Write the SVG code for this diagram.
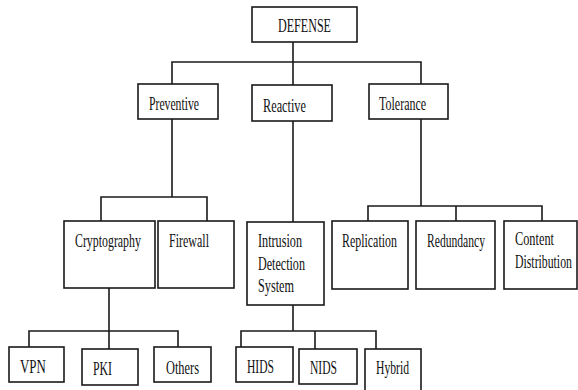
<svg xmlns="http://www.w3.org/2000/svg" width="578" height="390" viewBox="0 0 578 390">
<style>
.box{fill:#fff;stroke:#1a1a1a;stroke-width:1.6}
.ln{fill:none;stroke:#1a1a1a;stroke-width:1.6}
text{font-family:"Liberation Serif","Times New Roman",serif;font-size:18.5px;fill:#111}
</style>
<rect width="578" height="390" fill="#fff"/>
<g id="connectors" class="ln">
<path d="M293,42V62M172,84V62H421V84M293,62V85"/>
<path d="M172,119V197M101,221V197H207V221"/>
<path d="M293,121V222"/>
<path d="M421,119V206M368,221V206H542V221M456,206V221"/>
<path d="M109,288V349M29,347V331H178V347"/>
<path d="M293,305V331M241,347V331H376V349M315,331V349"/>
</g>
<g id="defense"><rect class="box" x="252" y="7" width="105" height="35"/><text transform="translate(278,32) scale(0.653,1)">DEFENSE</text></g>
<g id="preventive"><rect class="box" x="138" y="84" width="80" height="35"/><text transform="translate(149,110) scale(0.632,1)">Preventive</text></g>
<g id="reactive"><rect class="box" x="252" y="85" width="80" height="36"/><text transform="translate(263,112) scale(0.664,1)">Reactive</text></g>
<g id="tolerance"><rect class="box" x="369" y="84" width="79" height="35"/><text transform="translate(379,110) scale(0.649,1)">Tolerance</text></g>
<g id="cryptography"><rect class="box" x="64" y="221" width="91" height="67"/><text transform="translate(75,247) scale(0.642,1)">Cryptography</text></g>
<g id="firewall"><rect class="box" x="158" y="221" width="76" height="67"/><text transform="translate(169,247) scale(0.649,1)">Firewall</text></g>
<g id="ids"><rect class="box" x="247" y="222" width="77" height="83"/><text transform="translate(258,247) scale(0.659,1)">Intrusion</text><text transform="translate(258,270) scale(0.653,1)">Detection</text><text transform="translate(258,292) scale(0.661,1)">System</text></g>
<g id="replication"><rect class="box" x="332" y="221" width="76" height="68"/><text transform="translate(342,247) scale(0.645,1)">Replication</text></g>
<g id="redundancy"><rect class="box" x="416" y="221" width="79" height="68"/><text transform="translate(427,247) scale(0.627,1)">Redundancy</text></g>
<g id="content"><rect class="box" x="504" y="221" width="73" height="68"/><text transform="translate(515,245) scale(0.666,1)">Content</text><text transform="translate(515,268) scale(0.637,1)">Distribution</text></g>
<g id="vpn"><rect class="box" x="9" y="347" width="55" height="35"/><text transform="translate(20,373) scale(0.7,1)">VPN</text></g>
<g id="pki"><rect class="box" x="82" y="349" width="56" height="36"/><text transform="translate(93,375) scale(0.64,1)">PKI</text></g>
<g id="others"><rect class="box" x="154" y="347" width="57" height="35"/><text transform="translate(166,374) scale(0.669,1)">Others</text></g>
<g id="hids"><rect class="box" x="236" y="347" width="57" height="35"/><text transform="translate(247,373) scale(0.625,1)">HIDS</text></g>
<g id="nids"><rect class="box" x="299" y="349" width="58" height="35"/><text transform="translate(310,374) scale(0.625,1)">NIDS</text></g>
<g id="hybrid"><rect class="box" x="365" y="349" width="56" height="45"/><text transform="translate(376,374) scale(0.63,1)">Hybrid</text></g>
</svg>
